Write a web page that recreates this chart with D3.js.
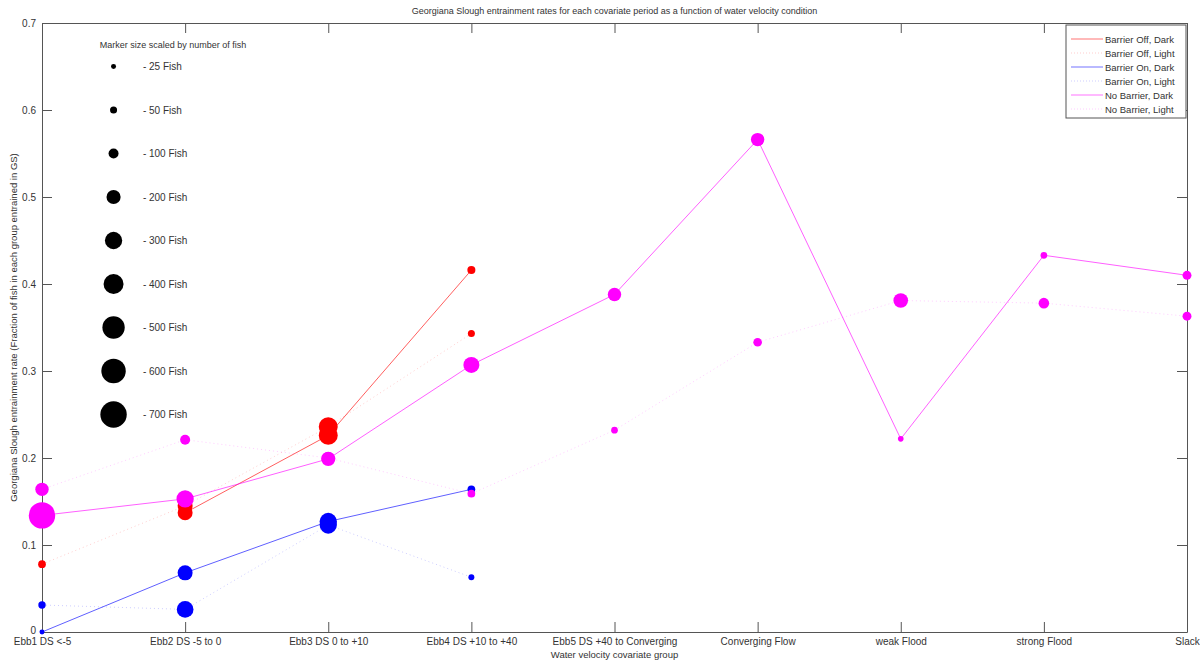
<!DOCTYPE html>
<html>
<head>
<meta charset="utf-8">
<script src="https://cdn.jsdelivr.net/npm/d3@7"></script>
<style>
  html, body { margin: 0; padding: 0; background: #fff; }
  svg { display: block; font-family: "Liberation Sans", Arial, sans-serif; }
</style>
</head>
<body>
<svg id="chart" width="1200" height="662"></svg>
<script>
// ---------------- DATA ----------------
const categories = [
  "Ebb1 DS <-5", "Ebb2 DS -5 to 0", "Ebb3 DS 0 to +10", "Ebb4 DS +10 to +40",
  "Ebb5 DS +40 to Converging", "Converging Flow", "weak Flood", "strong Flood", "Slack"
];
const yTicks = [0, 0.1, 0.2, 0.3, 0.4, 0.5, 0.6, 0.7];

const seriesNames = [
  "Barrier Off, Dark", "Barrier Off, Light", "Barrier On, Dark",
  "Barrier On, Light", "No Barrier, Dark", "No Barrier, Light"
];

// fraction entrained
const offDark   = [null, 0.137, 0.226, 0.416, null, null, null, null, null];
const offLight  = [0.078, 0.145, 0.236, 0.343, null, null, null, null, null];
const onDark    = [0.000, 0.068, 0.127, 0.164, null, null, null, null, null];
const onLight   = [0.031, 0.026, 0.123, 0.063, null, null, null, null, null];
const nbDark    = [0.134, 0.153, 0.199, 0.307, 0.388, 0.566, 0.222, 0.433, 0.410];
const nbLight   = [0.164, 0.221, 0.200, 0.159, 0.232, 0.333, 0.381, 0.378, 0.363];

// number of fish (marker size)
const offDarkN  = [null, 225, 360, 65, null, null, null, null, null];
const offLightN = [60, 225, 360, 50, null, null, null, null, null];
const onDarkN   = [25, 225, 300, 60, null, null, null, null, null];
const onLightN  = [55, 280, 300, 36, null, null, null, null, null];
const nbDarkN   = [700, 300, 205, 256, 180, 180, 32, 45, 80];
const nbLightN  = [180, 100, 150, 60, 45, 75, 215, 113, 80];

const sizeLegendFish = [25, 50, 100, 200, 300, 400, 500, 600, 700];

// ---------------- STYLE / LAYOUT ----------------
const seriesValues = [offDark, offLight, onDark, onLight, nbDark, nbLight];
const seriesCounts = [offDarkN, offLightN, onDarkN, onLightN, nbDarkN, nbLightN];
const seriesColors = ["#ff0000", "#ff0000", "#0000ff", "#0000ff", "#ff00ff", "#ff00ff"];
const seriesDotted = [false, true, false, true, false, true];

const svg = d3.select("#chart");
const mLeft = 42, mRight = 1187, mTop = 23, mBottom = 632;
const axisColor = "#555";
const textColor = "#333";

const x = d3.scalePoint().domain(categories).range([mLeft, mRight]).padding(0);
const y = d3.scaleLinear().domain([0, 0.7]).range([mBottom, mTop]);
const r = d3.scaleSqrt().domain([0, 700]).range([0, 13.2]);

// ---------------- AXES ----------------
function styleAxis(g) {
  g.selectAll("path.domain").attr("stroke", axisColor).attr("stroke-width", 1);
  g.selectAll(".tick line").attr("stroke", axisColor);
  g.selectAll(".tick text").attr("fill", textColor)
    .style("font-family", '"Liberation Sans", Arial, sans-serif');
}

svg.append("g").attr("transform", `translate(0,${mBottom})`)
  .call(d3.axisBottom(x).tickSize(-10).tickSizeOuter(0).tickPadding(6))
  .call(g => g.selectAll(".tick text").attr("font-size", 10))
  .call(styleAxis);

svg.append("g").attr("transform", `translate(0,${mTop})`)
  .call(d3.axisTop(x).tickSize(-10).tickSizeOuter(0).tickFormat(""))
  .call(styleAxis);

svg.append("g").attr("transform", `translate(${mLeft},0)`)
  .call(d3.axisLeft(y).tickValues(yTicks).tickSize(-10).tickSizeOuter(0)
    .tickPadding(6).tickFormat(d => String(d)))
  .call(g => g.selectAll(".tick text").attr("font-size", 10))
  .call(g => g.selectAll(".tick").filter(d => d === 0).select("text").attr("dy", "0.1em"))
  .call(styleAxis);

svg.append("g").attr("transform", `translate(${mRight},0)`)
  .call(d3.axisRight(y).tickValues(yTicks).tickSize(-10).tickSizeOuter(0).tickFormat(""))
  .call(styleAxis);

// ---------------- TITLES ----------------
svg.append("text")
  .attr("x", (mLeft + mRight) / 2).attr("y", 14)
  .attr("text-anchor", "middle").attr("font-size", 9).attr("fill", textColor)
  .text("Georgiana Slough entrainment rates for each covariate period as a function of water velocity condition");

svg.append("text")
  .attr("x", (mLeft + mRight) / 2).attr("y", 658)
  .attr("text-anchor", "middle").attr("font-size", 9.5).attr("fill", textColor)
  .text("Water velocity covariate group");

svg.append("text")
  .attr("transform", `translate(17,${(mTop + mBottom) / 2}) rotate(-90)`)
  .attr("text-anchor", "middle").attr("font-size", 9.5).attr("fill", textColor)
  .text("Georgiana Slough entrainment rate (Fraction of fish in each group entrained in GS)");

// ---------------- SERIES ----------------
seriesValues.forEach((vals, si) => {
  const pts = categories.map((c, i) => ({ c, v: vals[i], n: seriesCounts[si][i] }))
    .filter(d => d.v !== null);
  const g = svg.append("g");
  const line = d3.line().x(d => x(d.c)).y(d => y(d.v));
  g.append("path").datum(pts)
    .attr("d", line)
    .attr("fill", "none")
    .attr("stroke", seriesColors[si])
    .attr("stroke-width", seriesDotted[si] ? 1 : 0.9)
    .attr("stroke-opacity", seriesDotted[si] ? 0.2 : 0.7)
    .attr("stroke-dasharray", seriesDotted[si] ? "1,3" : null);
  g.selectAll("circle").data(pts).join("circle")
    .attr("cx", d => x(d.c)).attr("cy", d => y(d.v))
    .attr("r", d => r(d.n))
    .attr("fill", seriesColors[si]);
});

// ---------------- MARKER SIZE LEGEND ----------------
const sl = svg.append("g");
const slMarkerX = mLeft + (x(categories[1]) - mLeft) * 0.5;
const slTextX = mLeft + (x(categories[1]) - mLeft) * 0.705;
sl.append("text")
  .attr("x", 173).attr("y", y(0.675) + 3.5)
  .attr("text-anchor", "middle").attr("font-size", 9).attr("fill", textColor)
  .text("Marker size scaled by number of fish");
sizeLegendFish.forEach((n, i) => {
  const yy = y(0.65 - i * 0.05);
  sl.append("circle").attr("cx", slMarkerX).attr("cy", yy).attr("r", r(n)).attr("fill", "#000");
  sl.append("text").attr("x", slTextX).attr("y", yy + 3.5)
    .attr("font-size", 10).attr("fill", textColor)
    .text(`- ${n} Fish`);
});

// ---------------- SERIES LEGEND ----------------
const lg = svg.append("g");
const lgX = 1066, lgY = 25, lgW = 120, lgH = 93;
lg.append("rect").attr("x", lgX).attr("y", lgY).attr("width", lgW).attr("height", lgH)
  .attr("fill", "#fff").attr("stroke", axisColor).attr("stroke-width", 1);
seriesNames.forEach((name, si) => {
  const yy = lgY + 14 + si * 14;
  lg.append("line")
    .attr("x1", lgX + 5).attr("x2", lgX + 37).attr("y1", yy).attr("y2", yy)
    .attr("stroke", seriesColors[si])
    .attr("stroke-width", 1)
    .attr("stroke-opacity", seriesDotted[si] ? 0.2 : 0.55)
    .attr("stroke-dasharray", seriesDotted[si] ? "1,2" : null);
  lg.append("text").attr("x", lgX + 39).attr("y", yy + 3.5)
    .attr("font-size", 9.5).attr("fill", textColor).text(name);
});
</script>
</body>
</html>
